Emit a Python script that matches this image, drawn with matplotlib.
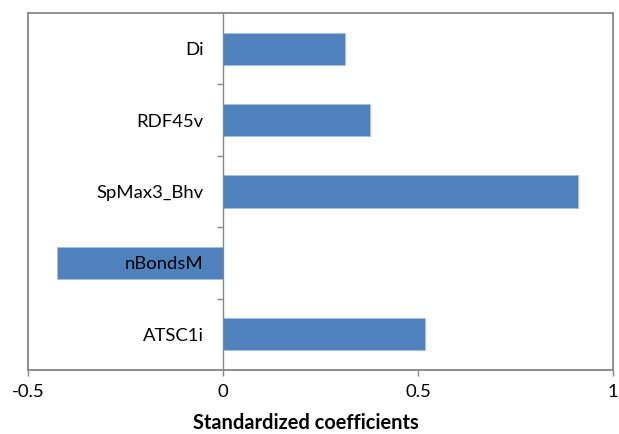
import matplotlib
matplotlib.use("Agg")
import matplotlib.pyplot as plt
from matplotlib.lines import Line2D

categories = ["ATSC1i", "nBondsM", "SpMax3_Bhv", "RDF45v", "Di"]
values = [0.517, -0.425, 0.910, 0.376, 0.314]
xticks = [-0.5, 0, 0.5, 1]
xticklabels = ["-0.5", "0", "0.5", "1"]
xlabel = "Standardized coefficients"

plt.rcParams['font.family'] = ['Lato', 'DejaVu Sans']

W, H = 619, 434
fig = plt.figure(figsize=(W / 100, H / 100), dpi=100)
L, R, T, B = 28, 613, 13, 370
ax = fig.add_axes([L / W, 1 - B / H, (R - L) / W, (B - T) / H])

frame = "#868686"
ypos = list(range(len(categories)))
ax.barh(ypos, values, height=0.45, color="#4F81BD", edgecolor="#A7BFDE",
        linewidth=0.6, zorder=1)

ax.set_xlim(-0.5, 1)
ax.set_ylim(-0.5, len(categories) - 0.5)

for s in ["top", "right", "bottom"]:
    ax.spines[s].set_color(frame)
    ax.spines[s].set_linewidth(1.3)
ax.spines["left"].set_position(("data", 0))
ax.spines["left"].set_color(frame)
ax.spines["left"].set_linewidth(1.0)
ax.add_line(Line2D([0, 0], [0, 1], transform=ax.transAxes, color=frame,
                   linewidth=1.3, clip_on=False))

ax.set_xticks(xticks)
ax.set_xticklabels(xticklabels)
ax.tick_params(axis="x", which="major", direction="out", length=4, width=1,
               color=frame, pad=6, labelsize=13.3, labelcolor="black")

ax.set_yticks([i + 0.5 for i in range(len(categories) - 1)])
ax.set_yticklabels([])
ax.set_yticks(ypos, minor=True)
ax.set_yticklabels(categories, minor=True)
ax.tick_params(axis="y", which="major", direction="out", length=4, width=1,
               color=frame)
ax.tick_params(axis="y", which="minor", length=0, pad=14, labelsize=13.3,
               labelcolor="black")

ax.set_xlabel(xlabel, fontsize=14.4, fontweight="bold", va="center")
ax.xaxis.set_label_coords((305.6 - L) / (R - L), -(423 - B) / (B - T))

fig.savefig("out.png", dpi=100)
